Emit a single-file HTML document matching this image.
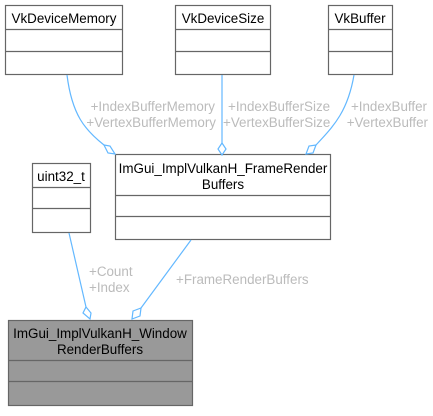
<!DOCTYPE html>
<html><head><style>
body{margin:0;background:#fff;}
svg text{font-family:"Liberation Sans",Arial,sans-serif;font-size:13.4px;}
</style></head><body>
<svg width="433" height="411" viewBox="0 0 433 411" xmlns="http://www.w3.org/2000/svg">
<g fill="#fff" stroke="#666" stroke-width="1.2">
<rect x="5.5" y="5.5" width="117" height="69"/><line x1="5.5" y1="29.5" x2="122.5" y2="29.5"/><line x1="5.5" y1="51.5" x2="122.5" y2="51.5"/>
<rect x="175.5" y="5.5" width="95" height="69"/><line x1="175.5" y1="29.5" x2="270.5" y2="29.5"/><line x1="175.5" y1="51.5" x2="270.5" y2="51.5"/>
<rect x="328.5" y="5.5" width="64" height="69"/><line x1="328.5" y1="29.5" x2="392.5" y2="29.5"/><line x1="328.5" y1="51.5" x2="392.5" y2="51.5"/>
<rect x="32.5" y="163.5" width="58" height="69"/><line x1="32.5" y1="187.5" x2="90.5" y2="187.5"/><line x1="32.5" y1="208.5" x2="90.5" y2="208.5"/>
<rect x="115.5" y="154.5" width="215" height="85"/><line x1="115.5" y1="195.5" x2="330.5" y2="195.5"/><line x1="115.5" y1="216.5" x2="330.5" y2="216.5"/>
<rect x="8.5" y="320.5" width="184" height="85" fill="#999"/><line x1="8.5" y1="360.5" x2="192.5" y2="360.5"/><line x1="8.5" y1="381.5" x2="192.5" y2="381.5"/>
</g>
<g fill="none" stroke="#63b8ff" stroke-width="1.2">
<path d="M67,75 C72,115 85,130 104,145"/>
<path d="M104,145 L110,146 L115,154 L108,153 Z" fill="#fff"/>
<path d="M222,75 L222,143"/>
<path d="M222,143 L226,149 L222,155 L218,149 Z" fill="#fff"/>
<path d="M354,75 C348,110 335,125 316,145"/>
<path d="M316,145 L313,153 L306,154 L309,146 Z" fill="#fff"/>
<path d="M69,233 L86,307"/>
<path d="M86,307 L91,313 L90,319 L83,313 Z" fill="#fff"/>
<path d="M191,240 L141,308"/>
<path d="M141,308 L140,316 L132,319 L133,311 Z" fill="#fff"/>
</g>
<g fill="#000" text-anchor="middle">
<text x="64" y="23">VkDeviceMemory</text>
<text x="223" y="23">VkDeviceSize</text>
<text x="360" y="23">VkBuffer</text>
<text x="61" y="181">uint32_t</text>
<text x="223" y="173">ImGui_ImplVulkanH_FrameRender</text>
<text x="223" y="189">Buffers</text>
<text x="100" y="338">ImGui_ImplVulkanH_Window</text>
<text x="100" y="354">RenderBuffers</text>
</g>
<g fill="#bbb">
<text x="215" y="111" text-anchor="end">+IndexBufferMemory</text>
<text x="216" y="127" text-anchor="end">+VertexBufferMemory</text>
<text x="228" y="111">+IndexBufferSize</text>
<text x="223" y="127">+VertexBufferSize</text>
<text x="427" y="111" text-anchor="end">+IndexBuffer</text>
<text x="428" y="127" text-anchor="end">+VertexBuffer</text>
<text x="89" y="276">+Count</text>
<text x="89" y="292">+Index</text>
<text x="176" y="284">+FrameRenderBuffers</text>
</g>
</svg>
</body></html>
